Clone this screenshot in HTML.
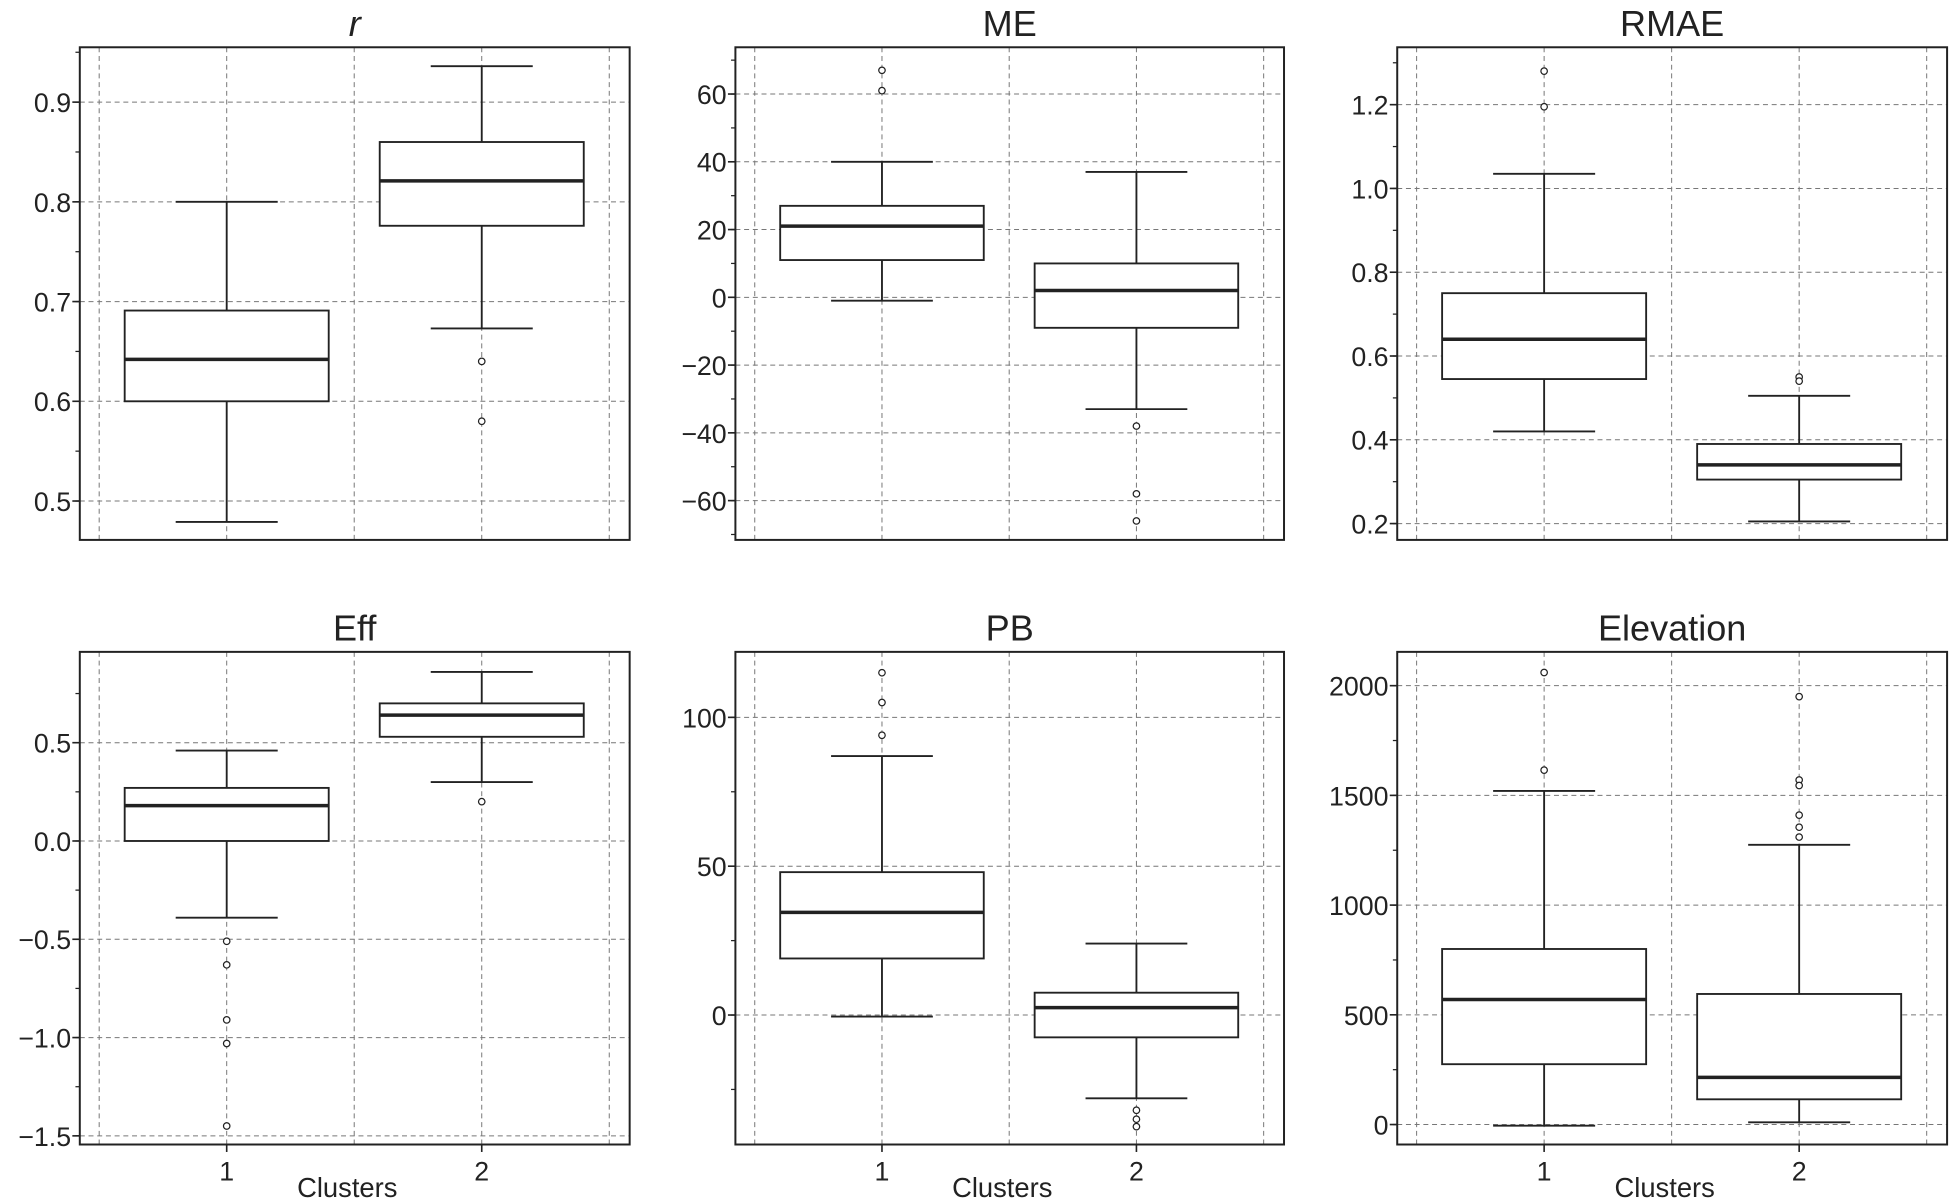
<!DOCTYPE html>
<html><head><meta charset="utf-8"><style>
html,body{margin:0;padding:0;background:#fff;}
svg{display:block;font-family:"Liberation Sans",sans-serif;}
</style></head><body>
<svg id="fig" width="1951" height="1198" viewBox="0 0 1568 963" xmlns="http://www.w3.org/2000/svg"></svg>
<script>
// panel metadata
const titles = ["r","ME","RMAE","Eff","PB","Elevation"];
const categories = [1, 2];
// y-domain [top, bottom]
const yDomains = [[0.955,0.461],[73.8,-71.6],[1.337,0.161],[0.962,-1.544],[122,-43.5],[2154,-91]];
const majorTicks = [
  [0.5,0.6,0.7,0.8,0.9],
  [-60,-40,-20,0,20,40,60],
  [0.2,0.4,0.6,0.8,1.0,1.2],
  [-1.5,-1.0,-0.5,0.0,0.5],
  [0,50,100],
  [0,500,1000,1500,2000]
];
const tickLabels = [
  ["0.5","0.6","0.7","0.8","0.9"],
  ["\u221260","\u221240","\u221220","0","20","40","60"],
  ["0.2","0.4","0.6","0.8","1.0","1.2"],
  ["\u22121.5","\u22121.0","\u22120.5","0.0","0.5"],
  ["0","50","100"],
  ["0","500","1000","1500","2000"]
];
const minorStep = [0.05,10,0.1,0.25,25,250];
// box stats per cluster: [low whisker, Q1, median, Q3, high whisker]
const cluster1Stats = [
  [0.479,0.600,0.642,0.691,0.800],
  [-1,11,21,27,40],
  [0.42,0.545,0.64,0.75,1.035],
  [-0.39,0.0,0.18,0.27,0.46],
  [-0.5,19,34.5,48,87],
  [-5,275,570,800,1520]
];
const cluster2Stats = [
  [0.673,0.776,0.821,0.860,0.936],
  [-33,-9,2,10,37],
  [0.205,0.305,0.34,0.39,0.505],
  [0.30,0.53,0.64,0.70,0.86],
  [-28,-7.5,2.5,7.5,24],
  [10,115,215,595,1275]
];
const cluster1Outliers = [[],[67,61],[1.28,1.195],[-0.51,-0.63,-0.91,-1.03,-1.45],[115,105,94],[2060,1615]];
const cluster2Outliers = [[0.64,0.58],[-38,-58,-66],[0.55,0.54],[0.20],[-32,-35,-37.5],[1950,1570,1545,1410,1355,1310]];

const NS="http://www.w3.org/2000/svg";
const svg=document.getElementById('fig');
function mk(tag,attrs,parent){const e=document.createElementNS(NS,tag);for(const k in attrs)e.setAttribute(k,attrs[k]);(parent||svg).appendChild(e);return e;}
const cols=[[64,506],[591,1032],[1123,1565]];
const rows=[[38,434],[524,920]];
const slug=["r","me","rmae","eff","pb","elevation"];
for(let p=0;p<6;p++){
  const [x0,x1]=cols[p%3],[y0,y1]=rows[Math.floor(p/3)];
  const g=mk('g',{});
  
  
  const xd=[0.424,2.58];
  const X=v=>x0+(v-xd[0])/(xd[1]-xd[0])*(x1-x0);
  const [ta,tb]=yDomains[p];
  const Y=v=>y0+(ta-v)/(ta-tb)*(y1-y0);
  for(const gx of [0.5,1,1.5,2,2.5]){
    const l=mk('line',{x1:X(gx),x2:X(gx),y1:y0,y2:y1,stroke:'#777','stroke-width':0.8,'stroke-dasharray':'4,3'},g);
    
    
  }
  majorTicks[p].forEach((t,i)=>{
    const y=Y(t);
    const l=mk('line',{x1:x0,x2:x1,y1:y,y2:y,stroke:'#777','stroke-width':0.8,'stroke-dasharray':'4,3'},g);
    
    
    mk('line',{x1:x0-6,x2:x0,y1:y,y2:y,stroke:'#222','stroke-width':1.3},g);
    const tx=mk('text',{x:x0-7,y:y+8,'text-anchor':'end','font-size':21.5,fill:'#222'},g);
    tx.textContent=tickLabels[p][i];
    
    
  });
  const ms=minorStep[p];
  for(let t=Math.ceil(tb/ms)*ms;t<=ta;t+=ms){
    const y=Y(t);
    mk('line',{x1:x0-3.5,x2:x0,y1:y,y2:y,stroke:'#222','stroke-width':1},g);
  }
  [cluster1Stats[p],cluster2Stats[p]].forEach((s,ci)=>{
    const c=categories[ci],cx=X(c);
    const bg=mk('g',{},g);
    
    
    const st={stroke:'#222','stroke-width':1.5,fill:'none'};
    mk('line',Object.assign({x1:cx,x2:cx,y1:Y(s[0]),y2:Y(s[1])},st),bg);
    mk('line',Object.assign({x1:cx,x2:cx,y1:Y(s[3]),y2:Y(s[4])},st),bg);
    mk('line',Object.assign({x1:X(c-0.2),x2:X(c+0.2),y1:Y(s[0]),y2:Y(s[0])},st),bg);
    mk('line',Object.assign({x1:X(c-0.2),x2:X(c+0.2),y1:Y(s[4]),y2:Y(s[4])},st),bg);
    mk('rect',{x:X(c-0.4),y:Y(s[3]),width:X(c+0.4)-X(c-0.4),height:Y(s[1])-Y(s[3]),fill:'#fff',stroke:'#222','stroke-width':1.5},bg);
    mk('line',{x1:X(c-0.4),x2:X(c+0.4),y1:Y(s[2]),y2:Y(s[2]),stroke:'#222','stroke-width':2.8},bg);
  });
  [cluster1Outliers[p],cluster2Outliers[p]].forEach((arr,ci)=>{
    arr.forEach(v=>{
      const o=mk('circle',{cx:X(categories[ci]),cy:Y(v),r:2.6,fill:'#fff',stroke:'#222','stroke-width':1},g);
      
      
    });
  });
  const fr=mk('rect',{x:x0,y:y0,width:x1-x0,height:y1-y0,fill:'none',stroke:'#222','stroke-width':1.6},g);
  
  
  const ti=mk('text',{x:(x0+x1)/2,y:y0-9,'text-anchor':'middle','font-size':29,fill:'#222'},g);
  if(p===0)ti.setAttribute('font-style','italic');
  ti.textContent=titles[p];
  
  
  if(p>=3){
    categories.forEach(c=>{
      mk('line',{x1:X(c),x2:X(c),y1:y1,y2:y1+6,stroke:'#222','stroke-width':1.3},g);
      const t=mk('text',{x:X(c),y:y1+29,'text-anchor':'middle','font-size':21.5,fill:'#222'},g);
      t.textContent=String(c);
      
      
    });
    const xl=mk('text',{x:(x0+x1)/2-6,y:962,'text-anchor':'middle','font-size':22,fill:'#222'},g);
    xl.textContent='Clusters';
    
    
  }
}
</script>
</body></html>
